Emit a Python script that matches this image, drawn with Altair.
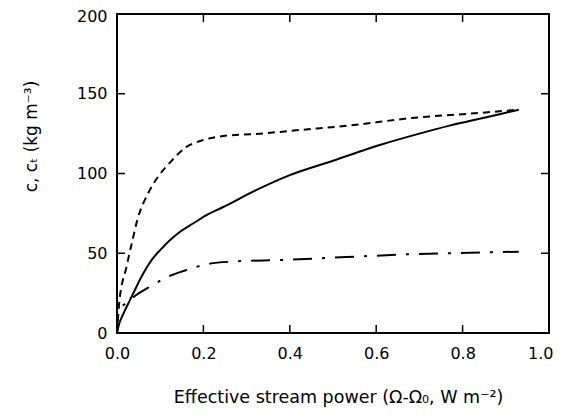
import altair as alt
import pandas as pd

# Solid curve (c)
solid_x = [0.0, 0.003, 0.015, 0.03, 0.045, 0.061, 0.08, 0.10, 0.123, 0.146, 0.177, 0.208,
           0.246, 0.323, 0.40, 0.50, 0.61, 0.70, 0.77, 0.85, 0.93]
solid_y = [0.0, 3.8, 12.2, 20.6, 29, 37.4, 45.7, 52, 58.3, 63.5, 68.8, 74,
           79, 89.7, 99, 108, 118, 125, 130, 135, 140]

# Short-dashed curve
dash_x = [0.0, 0.002, 0.005, 0.022, 0.036, 0.047, 0.072, 0.095, 0.123, 0.16, 0.20,
          0.246, 0.323, 0.424, 0.535, 0.69, 0.84, 0.93]
dash_y = [0.0, 8, 18.6, 41.5, 58.3, 70.8, 87.6, 98, 107, 116.5, 121,
          123.5, 124.8, 127.3, 130, 135, 138, 140]

# Dash-dot curve
dd_x = [0.0, 0.002, 0.006, 0.02, 0.038, 0.076, 0.115, 0.161, 0.215, 0.27, 0.38, 0.53, 0.69, 0.84, 0.93]
dd_y = [0.0, 10, 15, 18.5, 22.5, 29, 34.9, 39.5, 43.5, 44.8, 45.8, 47.6, 49.5, 50.4, 51]

x_ticks = [0.0, 0.2, 0.4, 0.6, 0.8, 1.0]
y_ticks = [0, 50, 100, 150, 200]
x_inner_ticks = [0.2, 0.4, 0.6, 0.8]
y_inner_ticks = [50, 100, 150]

W, H = 432, 319
FONT = "DejaVu Sans"

xs = alt.Scale(domain=[0, 1], nice=False, zero=False)
ys = alt.Scale(domain=[0, 200], nice=False, zero=False)

df_solid = pd.DataFrame({"x": solid_x, "y": solid_y})
df_dash = pd.DataFrame({"x": dash_x, "y": dash_y})
df_dd = pd.DataFrame({"x": dd_x, "y": dd_y})

xaxis = alt.Axis(values=x_ticks, format=".1f", tickSize=0, domain=False, grid=False,
                 labelFlush=False, labelOverlap=False,
                 labelAlign={"expr": "datum.value >= 1 ? 'right' : 'center'"},
                 labelOffset={"expr": "datum.value >= 1 ? 4 : 0"},
                 labelFont=FONT, labelFontSize=16, labelColor="black", labelPadding=12,
                 title="Effective stream power (Ω-Ω₀, W m⁻²)", titleFont=FONT,
                 titleFontSize=17.5, titleFontWeight="normal", titleColor="black",
                 titleX=221, titleY=64, titleBaseline="middle", titleAnchor="middle")
yaxis = alt.Axis(values=y_ticks, format="d", tickSize=0, domain=False, grid=False,
                 labelFlush=False, labelOverlap=False,
                 labelOffset={"expr": "datum.value >= 200 ? 2 : 0"},
                 labelFont=FONT, labelFontSize=16, labelColor="black", labelPadding=10,
                 title="c, cₜ (kg m⁻³)", titleFont=FONT, titleFontSize=17,
                 titleFontWeight="normal", titleColor="black",
                 titleX=-86, titleY=122, titleBaseline="middle", titleAngle=270)

base_solid = alt.Chart(df_solid).mark_line(color="black", strokeWidth=2, interpolate="monotone").encode(
    x=alt.X("x:Q", scale=xs, axis=xaxis),
    y=alt.Y("y:Q", scale=ys, axis=yaxis),
)
dash_line = alt.Chart(df_dash).mark_line(color="black", strokeWidth=2, strokeDash=[7, 5], interpolate="monotone").encode(
    x=alt.X("x:Q", scale=xs), y=alt.Y("y:Q", scale=ys)
)
dd_line = alt.Chart(df_dd).mark_line(color="black", strokeWidth=2, strokeDash=[19, 10, 3, 10], interpolate="monotone").encode(
    x=alt.X("x:Q", scale=xs), y=alt.Y("y:Q", scale=ys)
)

TL = 8
dfx = pd.DataFrame({"t": x_inner_ticks})
dfy = pd.DataFrame({"t": y_inner_ticks})
bottom_ticks = alt.Chart(dfx).mark_rule(color="black", strokeWidth=1.5).encode(
    x=alt.X("t:Q", scale=xs), y=alt.value(H - TL), y2=alt.value(H))
top_ticks = alt.Chart(dfx).mark_rule(color="black", strokeWidth=1.5).encode(
    x=alt.X("t:Q", scale=xs), y=alt.value(0), y2=alt.value(TL))
left_ticks = alt.Chart(dfy).mark_rule(color="black", strokeWidth=1.5).encode(
    y=alt.Y("t:Q", scale=ys), x=alt.value(0), x2=alt.value(TL))
right_ticks = alt.Chart(dfy).mark_rule(color="black", strokeWidth=1.5).encode(
    y=alt.Y("t:Q", scale=ys), x=alt.value(W - TL), x2=alt.value(W))

chart = alt.layer(base_solid, dash_line, dd_line, bottom_ticks, top_ticks, left_ticks, right_ticks).properties(
    width=W, height=H,
    autosize=alt.AutoSizeParams(type="none"),
    padding={"left": 109, "top": 6, "right": 5, "bottom": 74},
    background="white",
).configure_view(stroke="black", strokeWidth=2)

chart.save("out.html", embed_options={"renderer": "svg", "actions": False})
